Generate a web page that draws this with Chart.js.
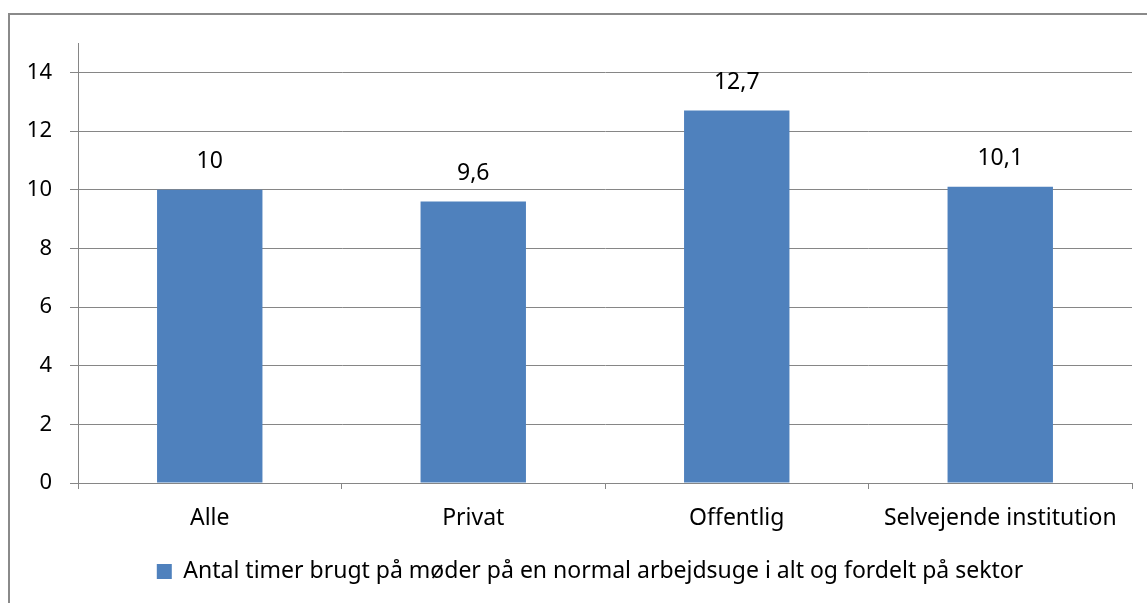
<!DOCTYPE html>
<html>
<head>
<meta charset="utf-8">
<script src="https://cdn.jsdelivr.net/npm/chart.js@4/dist/chart.umd.min.js"></script>
<style>
  html, body { margin: 0; padding: 0; background: #fff; }
  #wrap { width: 1147px; height: 603px; }
</style>
</head>
<body>
<div id="wrap"><canvas id="chart" width="1147" height="603"></canvas></div>
<script>
const categories = ['Alle', 'Privat', 'Offentlig', 'Selvejende institution'];
const hours = [10, 9.6, 12.7, 10.1];
const seriesName = 'Antal timer brugt på møder på en normal arbejdsuge i alt og fordelt på sektor';
const yTicks = [0, 2, 4, 6, 8, 10, 12, 14];

const fontFamily = '"Noto Sans", "Open Sans", sans-serif';
const gridGray = '#868686';

// frame round the whole chart
const frame = {
    id: 'frame',
    beforeDraw(chart) {
        const ctx = chart.ctx;
        ctx.save();
        ctx.strokeStyle = '#8a8a8a';
        ctx.lineWidth = 2;
        ctx.strokeRect(9, 14, 1150, 600);
        ctx.restore();
    }
};

// the legend sits a bit right of the canvas centre
const legendShift = {
    id: 'legendShift',
    afterLayout(chart) {
        chart.legend.left += 24;
        chart.legend.right += 24;
    }
};

// value labels over the bars
const valueLabels = {
    id: 'valueLabels',
    afterDatasetsDraw(chart) {
        const ctx = chart.ctx;
        const meta = chart.getDatasetMeta(0);
        ctx.save();
        ctx.font = '23px ' + fontFamily;
        ctx.fillStyle = '#000';
        ctx.textAlign = 'center';
        ctx.textBaseline = 'middle';
        meta.data.forEach((bar, i) => {
            const v = chart.data.datasets[0].data[i];
            ctx.fillText(String(v).replace('.', ','), bar.x, bar.y - 28);
        });
        ctx.restore();
    }
};

new Chart(document.getElementById('chart'), {
    type: 'bar',
    data: {
        labels: categories,
        datasets: [{
            label: seriesName,
            data: hours,
            backgroundColor: '#4F81BD',
            borderWidth: 0,
            categoryPercentage: 1,
            barPercentage: 0.4
        }]
    },
    options: {
        responsive: false,
        animation: false,
        layout: {
            padding: { left: 0, top: 43, right: 15, bottom: 10 }
        },
        plugins: {
            tooltip: { enabled: false },
            legend: {
                position: 'bottom',
                labels: {
                    color: '#000',
                    boxWidth: 15,
                    boxHeight: 15,
                    padding: 10,
                    font: { family: fontFamily, size: 23 }
                }
            }
        },
        scales: {
            x: {
                offset: true,
                afterFit(scale) { scale.height = 67; },
                grid: {
                    offset: true,
                    drawOnChartArea: false,
                    drawTicks: true,
                    tickLength: 6,
                    color: gridGray
                },
                border: { color: gridGray, width: 1 },
                ticks: {
                    color: '#000',
                    padding: 16,
                    maxRotation: 0,
                    autoSkip: false,
                    font: { family: fontFamily, size: 23 }
                }
            },
            y: {
                min: 0,
                max: 15,
                afterFit(scale) { scale.width = 78; },
                afterBuildTicks(scale) {
                    scale.ticks = yTicks.map(v => ({ value: v }));
                },
                grid: {
                    color: gridGray,
                    tickLength: 8
                },
                border: { color: gridGray, width: 1 },
                ticks: {
                    color: '#000',
                    padding: 18,
                    font: { family: fontFamily, size: 22 }
                }
            }
        }
    },
    plugins: [frame, legendShift, valueLabels]
});
</script>
</body>
</html>
